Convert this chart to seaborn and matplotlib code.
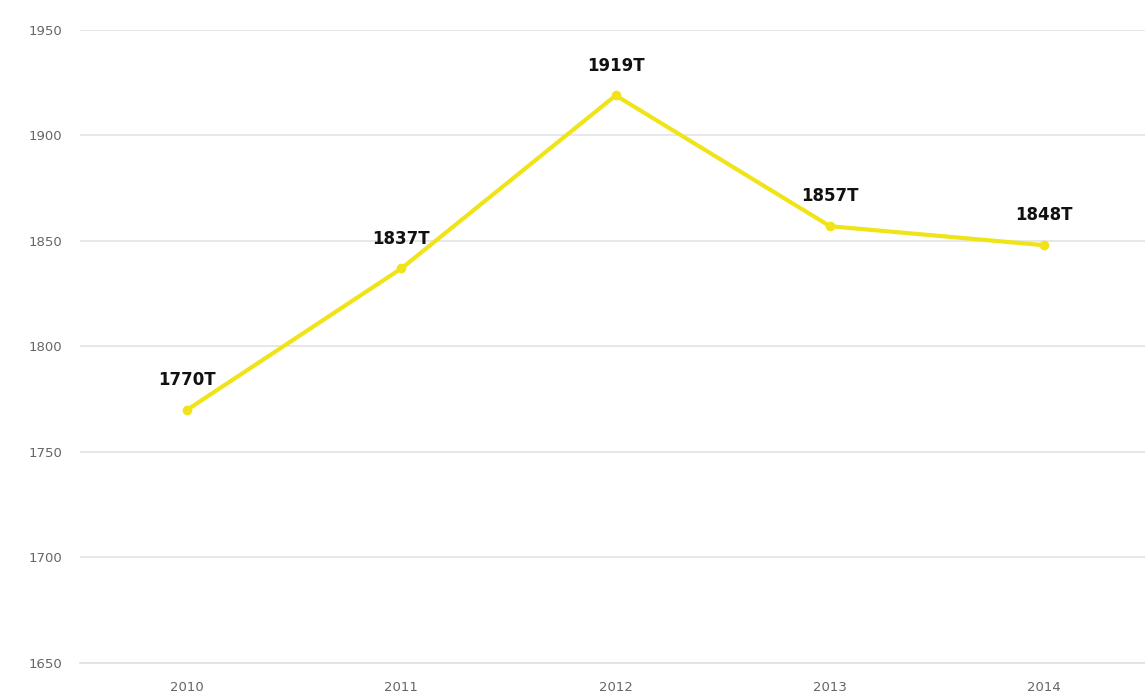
import pandas as pd
import matplotlib.pyplot as plt
import seaborn as sns

sns.set_theme(style='white')
plt.rcParams['font.family'] = ['DejaVu Sans']

# 数据
years = ['2010', '2011', '2012', '2013', '2014']
values = [1770, 1837, 1919, 1857, 1848]
labels = ['1770T', '1837T', '1919T', '1857T', '1848T']

df = pd.DataFrame({'year': years, 'value': values})

fig = plt.figure(figsize=(11.45, 6.97), dpi=100)
ax = fig.add_axes([80/1145, 1-663/697, 1-80/1145, (663-30)/697])

sns.lineplot(x='year', y='value', data=df, ax=ax, color='#F0E419',
             linewidth=3, marker='o', markersize=7, markeredgewidth=0,
             sort=False)

for i, (v, t) in enumerate(zip(values, labels)):
    ax.annotate(t, (i, v), xytext=(0, 15), textcoords='offset points',
                ha='center', va='bottom', fontsize=12, fontweight='bold',
                color='#111111')

ax.set_ylim(1650, 1950)
ax.set_xlim(-0.5, 4.47)
ax.set_yticks(range(1650, 1951, 50))
ax.yaxis.grid(True, color='#E3E3E3', linewidth=1.2)
ax.set_axisbelow(True)
for s in ['top', 'right', 'left']:
    ax.spines[s].set_visible(False)
ax.spines['bottom'].set_color('#E0E0E0')
ax.spines['bottom'].set_linewidth(1.2)
ax.tick_params(axis='both', length=0, labelsize=9.5, colors='#666666')
ax.tick_params(axis='y', pad=13)
ax.tick_params(axis='x', pad=13)
ax.set_xlabel('')
ax.set_ylabel('')

plt.savefig('out.png', dpi=100)
